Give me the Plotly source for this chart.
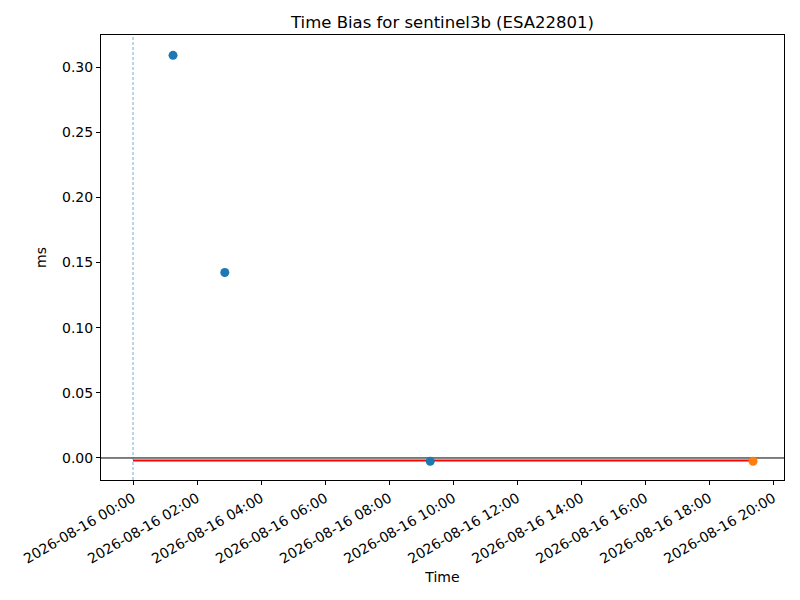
import plotly.graph_objects as go

# observed time bias points
obs_times = ["2026-08-16 01:15", "2026-08-16 02:52", "2026-08-16 09:17"]
obs_bias = [0.309, 0.1423, -0.0025]

# latest point
last_times = ["2026-08-16 19:22"]
last_bias = [-0.0025]

# fitted / reference level
ref_times = ["2026-08-16 00:00", "2026-08-16 19:22"]
ref_bias = [-0.0019, -0.0019]

start_time = "2026-08-16 00:00"

fig = go.Figure()

fig.add_trace(go.Scatter(
    x=ref_times, y=ref_bias, mode='lines',
    line=dict(color='#ff0000', width=2), showlegend=False))

fig.add_trace(go.Scatter(
    x=obs_times, y=obs_bias, mode='markers',
    marker=dict(color='#1f77b4', size=9), showlegend=False))

fig.add_trace(go.Scatter(
    x=last_times, y=last_bias, mode='markers',
    marker=dict(color='#ff7f0e', size=9), showlegend=False))

# zero line and start marker
fig.add_hline(y=0, line=dict(color='black', width=1), layer='below')
fig.add_vline(x=start_time, line=dict(color='rgba(31,119,180,0.75)', width=0.8, dash='3px,2px'),
              layer='below')

axis_style = dict(
    showline=True, linecolor='black', linewidth=1, mirror=True,
    ticks='outside', ticklen=4, tickcolor='black', showgrid=False,
    zeroline=False, automargin=False, tickfont=dict(size=14, color='black'))

# page body adds an 8px offset, margins account for it
fig.update_layout(
    width=800, height=600,
    paper_bgcolor='white', plot_bgcolor='white',
    font=dict(family='DejaVu Sans', size=14, color='black'),
    margin=dict(l=93, r=24, t=27, b=128),
    title=dict(text='Time Bias for sentinel3b (ESA22801)', xref='paper', x=0.5, xanchor='center',
               y=0.977, yanchor='middle', font=dict(size=16.5)),
    showlegend=False,
)

fig.update_xaxes(
    **axis_style,
    type='date',
    range=["2026-08-15 23:00", "2026-08-16 20:20"],
    tick0="2026-08-16 00:00", dtick=7200000,
    tickformat='%Y-%m-%d %H:%M', tickangle=-30,
    title=dict(text='Time', font=dict(size=14), standoff=6))

fig.update_yaxes(
    **axis_style,
    range=[-0.0169, 0.3246],
    tick0=0, dtick=0.05, tickformat='.2f',
    title=dict(text='ms', font=dict(size=14), standoff=12))

fig.write_html("out.html")
